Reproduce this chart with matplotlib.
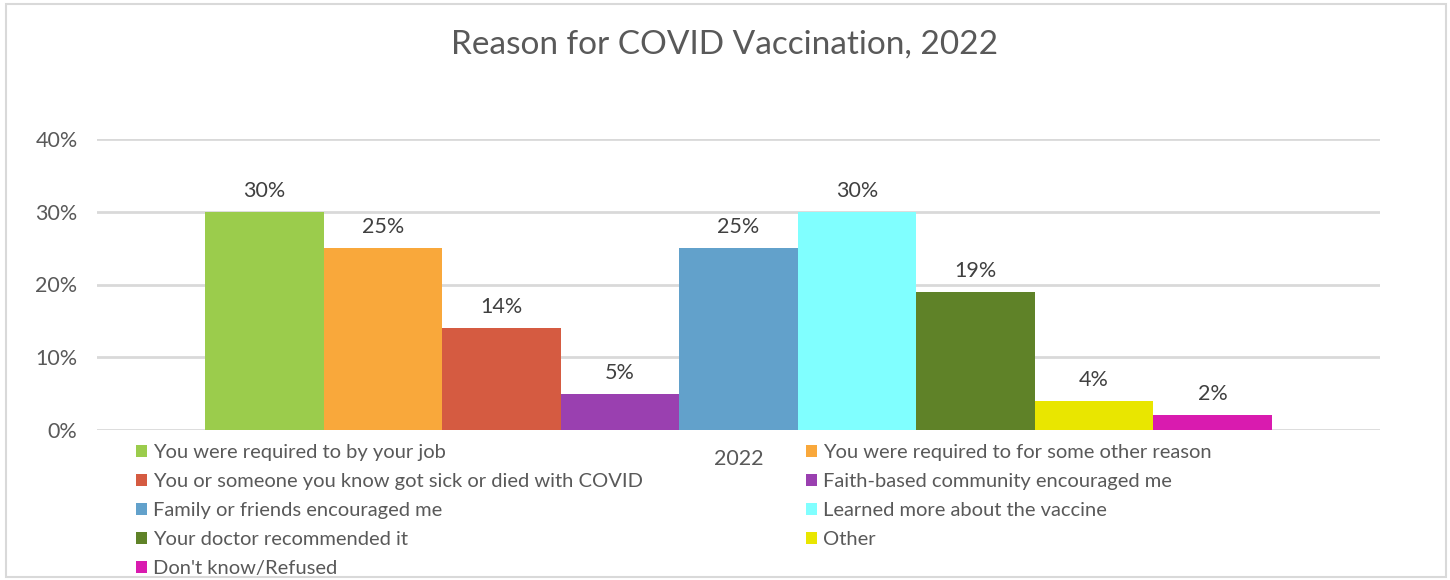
import matplotlib.pyplot as plt
from matplotlib.patches import Patch, Rectangle
import numpy as np

plt.rcParams['font.family'] = ['Lato', 'DejaVu Sans']

# data
reasons = [
    "You were required to by your job",
    "You were required to for some other reason",
    "You or someone you know got sick or died with COVID",
    "Faith-based community encouraged me",
    "Family or friends encouraged me",
    "Learned more about the vaccine",
    "Your doctor recommended it",
    "Other",
    "Don't know/Refused",
]
values = [30, 25, 14, 5, 25, 30, 19, 4, 2]
colors = ['#9BCC4C', '#F9A83B', '#D55B41', '#9A40B0', '#62A1CB',
          '#80FFFF', '#5F8228', '#E9E600', '#D91BAF']
year_label = "2022"
yticks = [0, 10, 20, 30, 40]

TXT = '#595959'
GRID = '#D9D9D9'

fig = plt.figure(figsize=(14.5, 5.8), dpi=100)
ax = fig.add_axes([97 / 1450, 1 - 430 / 580, 1283 / 1450, 291 / 580])

n = len(values)
w = (1067 / 1283) / n
xs = (np.arange(n) - (n - 1) / 2) * w
ax.bar(xs, values, width=w, color=colors, zorder=3)

# value labels above each bar
for x, v in zip(xs, values):
    ax.annotate(f"{v}%", (x, v), xytext=(0, 8), textcoords='offset points',
                ha='center', va='bottom', fontsize=15.5, color='#404040')

ax.set_xlim(-0.5, 0.5)
ax.set_ylim(0, 40)
ax.set_yticks(yticks)
ax.set_yticklabels([f"{t}%" for t in yticks], fontsize=15.5, color=TXT)
ax.set_xticks([0])
ax.set_xticklabels([year_label], fontsize=15.5, color=TXT)
ax.tick_params(length=0, axis='y', pad=14)
ax.tick_params(length=0, axis='x', pad=14)
ax.grid(axis='y', color=GRID, lw=2, zorder=0)
for s in ax.spines.values():
    s.set_visible(False)

fig.text(0.5, 1 - 45 / 580, "Reason for COVID Vaccination, 2022",
         ha='center', va='center', fontsize=24, color=TXT)

# legend is filled row by row in two columns
handles = [Patch(facecolor=c, label=r) for c, r in zip(colors, reasons)]
leg_kw = dict(loc='upper left', frameon=False, fontsize=14.5, labelcolor=TXT,
              handlelength=0.55, handleheight=0.55, handletextpad=0.3,
              labelspacing=0.6, borderpad=0, borderaxespad=0)
fig.legend(handles=handles[0::2], bbox_to_anchor=(136 / 1450, 1 - 444 / 580), **leg_kw)
fig.legend(handles=handles[1::2], bbox_to_anchor=(806 / 1450, 1 - 444 / 580), **leg_kw)

fig.patches.append(Rectangle((6 / 1450, 3 / 580), 1440 / 1450, 573 / 580,
                             transform=fig.transFigure, fill=False,
                             edgecolor=GRID, lw=1.5))

fig.savefig('out.png', dpi=100)
